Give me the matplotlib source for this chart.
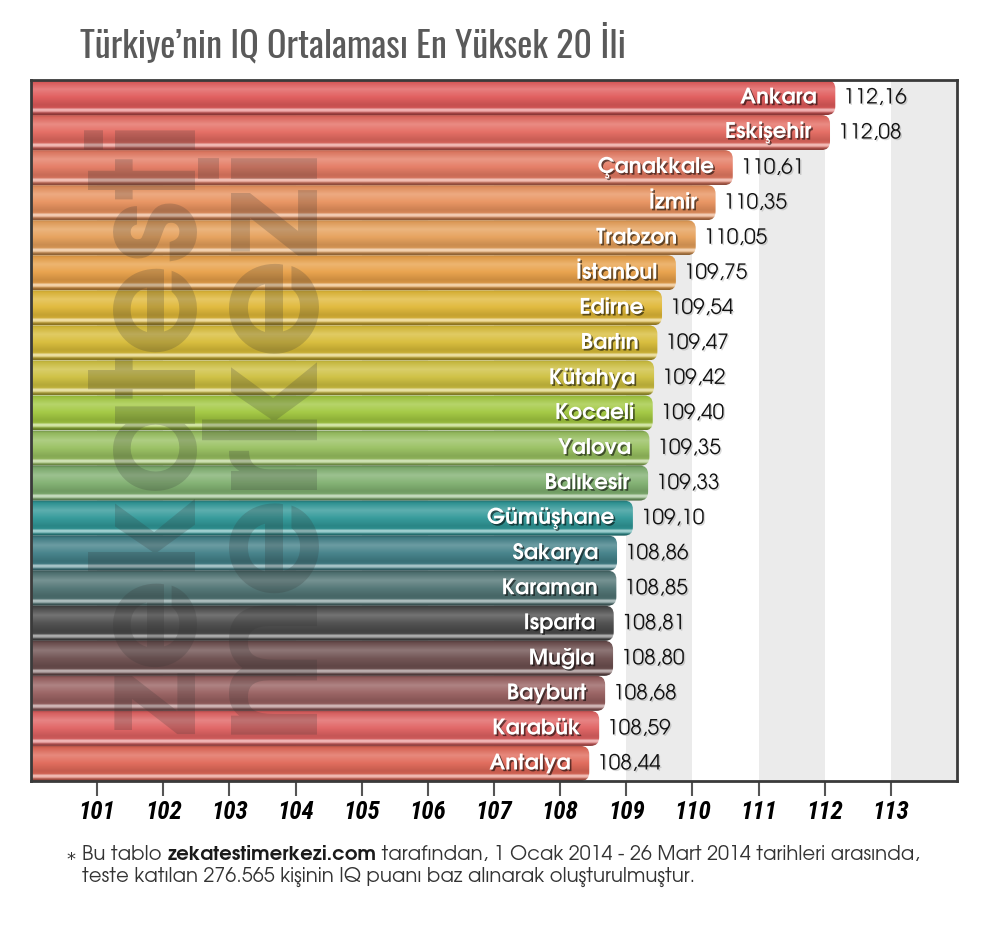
import numpy as np
import matplotlib
matplotlib.use('Agg')
import matplotlib.pyplot as plt
from matplotlib.patches import FancyBboxPatch
from matplotlib.colors import to_rgb
import matplotlib.patheffects as pe

cities = ['Ankara', 'Eskişehir', 'Çanakkale', 'İzmir', 'Trabzon', 'İstanbul',
          'Edirne', 'Bartın', 'Kütahya', 'Kocaeli', 'Yalova', 'Balıkesir',
          'Gümüşhane', 'Sakarya', 'Karaman', 'Isparta', 'Muğla', 'Bayburt',
          'Karabük', 'Antalya']
iq = [112.16, 112.08, 110.61, 110.35, 110.05, 109.75, 109.54, 109.47, 109.42,
      109.40, 109.35, 109.33, 109.10, 108.86, 108.85, 108.81, 108.80, 108.68,
      108.59, 108.44]
bar_colors = ['#e05a5a', '#e46a60', '#e47a62', '#e8925e', '#e6a05a', '#e8a048',
              '#e0b838', '#d8bc38', '#cec040', '#a2c840', '#98c060', '#80b070',
              '#309898', '#428088', '#507474', '#4c4c4c', '#6e5050', '#986060',
              '#e06262', '#e06858']
ticks = list(range(101, 114))

title = 'Türkiye’nin IQ Ortalaması En Yüksek 20 İli'
note_a = 'Bu tablo '
note_b = 'zekatestimerkezi.com'
note_c = ' tarafından, 1 Ocak 2014 - 26 Mart 2014 tarihleri arasında,'
note_2 = 'teste katılan 276.565 kişinin IQ puanı baz alınarak oluşturulmuştur.'

GOTHIC = ['TeX Gyre Adventor', 'DejaVu Sans']
COND = ['Roboto Condensed', 'Liberation Sans Narrow', 'DejaVu Sans']
TITLE = ['Oswald', 'Roboto Condensed', 'DejaVu Sans']

W, H = 984, 925
fig = plt.figure(figsize=(W / 100, H / 100), dpi=100)
ax = fig.add_axes([31 / W, 1 - 781 / H, 926 / W, 701 / H])

x0, x1 = 100, 114
n = len(cities)

# alternating light bands behind the bars
for s in range(101, 114, 2):
    ax.axvspan(s, s + 1, color='#ebebeb', zorder=0, lw=0)


def shade(c, t):
    c = np.array(to_rgb(c))
    if t >= 0:
        return c + (1 - c) * t
    return c * (1 + t)


# glossy tube profile, top -> bottom
stops = [(0.0, -0.28), (0.07, -0.05), (0.28, 0.22), (0.5, 0.04), (0.72, -0.12),
         (0.8, -0.08), (0.85, 0.6), (0.9, 0.45), (0.95, -0.25), (1.0, -0.4)]
rows = np.linspace(0, 1, 70)

# pixels per unit: x 926/14, y 701/20
aspect = (1 / (701 / n)) / (1 / (926 / (x1 - x0)))

for i, (name, v, col) in enumerate(zip(cities, iq, bar_colors)):
    y = n - 1 - i
    patch = FancyBboxPatch((x0 - 0.5, y - 0.5), v - (x0 - 0.5), 1.0,
                           boxstyle='round,pad=0,rounding_size=0.13',
                           mutation_aspect=aspect, fc='none', ec='none')
    ax.add_patch(patch)
    cols = np.array([shade(col, t) for _, t in stops])
    pos = [p for p, _ in stops]
    grad = np.stack([np.interp(rows, pos, cols[:, k]) for k in range(3)], axis=-1)
    im = ax.imshow(grad[:, None, :], extent=(x0 - 0.5, v, y - 0.5, y + 0.5),
                   aspect='auto', interpolation='bilinear', zorder=2)
    im.set_clip_path(patch)

    ax.text(v - 0.28, y, name, ha='right', va='center', color='white',
            fontsize=15.5, fontweight='bold', family=GOTHIC, zorder=4,
            path_effects=[pe.withSimplePatchShadow(offset=(1.2, -1.2),
                                                   shadow_rgbFace='black', alpha=0.55)])
    ax.text(v + 0.12, y, f'{v:.2f}'.replace('.', ','), ha='left', va='center',
            color='#111111', fontsize=15, family=GOTHIC, zorder=4,
            path_effects=[pe.withSimplePatchShadow(offset=(1, -1),
                                                   shadow_rgbFace='black', alpha=0.15)])

ax.set_xlim(x0, x1)
ax.set_ylim(-0.5, n - 0.5)
ax.set_yticks([])
ax.set_xticks(ticks)
ax.set_xticklabels([str(t) for t in ticks], fontsize=18, fontweight='bold',
                   fontstyle='italic', family=COND)
ax.tick_params(axis='x', length=11, width=1.5, color='#555555', pad=3)
for sp in ax.spines.values():
    sp.set_color('#3a3a3a')
    sp.set_linewidth(2)

# watermark
fig.text(193 / W, 1 - 734 / H, 'zekatesti', rotation=90, rotation_mode='anchor',
         ha='left', va='baseline', fontsize=104, fontweight='bold', color='#333333',
         alpha=0.22, family=GOTHIC)
fig.text(310 / W, 1 - 734 / H, 'merkezi', rotation=90, rotation_mode='anchor',
         ha='left', va='baseline', fontsize=112, fontweight='bold', color='#333333',
         alpha=0.22, family=GOTHIC)

fig.text(80 / W, 1 - 57 / H, title, ha='left', va='baseline', fontsize=26,
         color='#5a5a5a', family=TITLE)

# footnote
fig.text(66 / W, 1 - 865 / H, '*', ha='left', va='baseline', fontsize=13,
         color='#333333', family='DejaVu Sans')
t1 = fig.text(82 / W, 1 - 860 / H, note_a, ha='left', va='baseline', fontsize=14.2,
              color='#333333', family=GOTHIC)
t2 = ax.annotate(note_b, xy=(1, 0), xycoords=t1, ha='left', va='bottom', fontsize=14.2,
                 fontweight='bold', color='#1a1a1a', family=GOTHIC,
                 annotation_clip=False)
ax.annotate(note_c, xy=(1, 0), xycoords=t2, ha='left', va='bottom', fontsize=14.2,
            color='#333333', family=GOTHIC, annotation_clip=False)
fig.text(82 / W, 1 - 882 / H, note_2, ha='left', va='baseline', fontsize=14.2,
         color='#333333', family=GOTHIC)

fig.savefig('out.png', dpi=100, facecolor='white')
